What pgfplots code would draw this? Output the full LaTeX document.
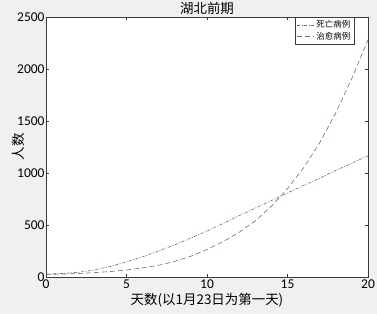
\documentclass[border=0pt]{standalone}
\usepackage{fontspec}
\setmainfont{Carlito}
\newfontfamily\cjk{Noto Sans CJK SC}
\usepackage{pgfplots}
\pgfplotsset{compat=1.18}
\definecolor{bgc}{HTML}{F0F0F0}
\definecolor{deathc}{HTML}{5E707C}
\definecolor{recc}{HTML}{7C6C62}
\definecolor{framec}{HTML}{3A3A3A}
\begin{document}
\begin{tikzpicture}[x=1bp,y=1bp]
\fill[bgc] (0,0) rectangle (377,314);
\useasboundingbox (0,0) rectangle (377,314);
\begin{axis}[
  at={(46bp,37bp)}, anchor=south west,
  scale only axis, width=322bp, height=260bp,
  xmin=0, xmax=20, ymin=0, ymax=2500,
  xtick={0,5,10,15,20}, ytick={0,500,1000,1500,2000,2500},
  tick align=inside, major tick length=3bp,
  axis background/.style={fill=white},
  axis line style={framec, line width=0.9pt},
  tick style={framec, line width=0.5pt},
  /pgf/number format/assume math mode=true,
  /pgf/number format/1000 sep={},
  ticklabel style={font=\fontsize{13.5}{14}\selectfont, text=black},
  xticklabel style={yshift=1bp},
  yticklabel style={xshift=2bp},
  clip mode=individual,
  legend style={at={(rel axis cs:0.957,1)}, anchor=north east, font=\cjk\fontsize{8.5}{9}\selectfont,
    draw=framec, line width=0.6pt, inner sep=1.5bp, row sep=-1bp, cells={anchor=west}},
  legend image post style={line width=0.6pt},
  legend cell align=left,
]
\addplot[deathc, line width=0.6pt, dash pattern=on 3bp off 1.5bp on 1bp off 1.5bp] coordinates {
(0,28) (1,34) (2,45) (3,66) (4,102) (5,145) (6,195) (7,250) (8,310) (9,375) (10,442)
(11,515) (12,590) (13,662) (14,735) (15,808) (16,880) (17,950) (18,1025) (19,1095) (20,1165)};
\addlegendentry{死亡病例}
\addplot[recc, line width=0.6pt, dash pattern=on 5bp off 3bp] coordinates {
(0,25) (1,28) (2,33) (3,42) (4,53) (5,67) (6,87) (7,113) (8,150) (9,200) (10,265)
(11,340) (12,430) (13,540) (14,680) (15,850) (16,1050) (17,1290) (18,1580) (19,1910) (20,2280)};
\addlegendentry{治愈病例}
\node[font=\cjk\fontsize{13.5}{14}\selectfont, anchor=center, yshift=9bp] at (rel axis cs:0.5,1) {湖北前期};
\node[font=\cjk\fontsize{13.5}{14}\selectfont, anchor=center, yshift=-23bp] at (rel axis cs:0.5,0) {天数(以1月23日为第一天)};
\node[font=\cjk\fontsize{13.5}{14}\selectfont, anchor=center, rotate=90, xshift=0bp] at ([xshift=-28bp]rel axis cs:0,0.5) {人数};
\end{axis}
\end{tikzpicture}
\end{document}
